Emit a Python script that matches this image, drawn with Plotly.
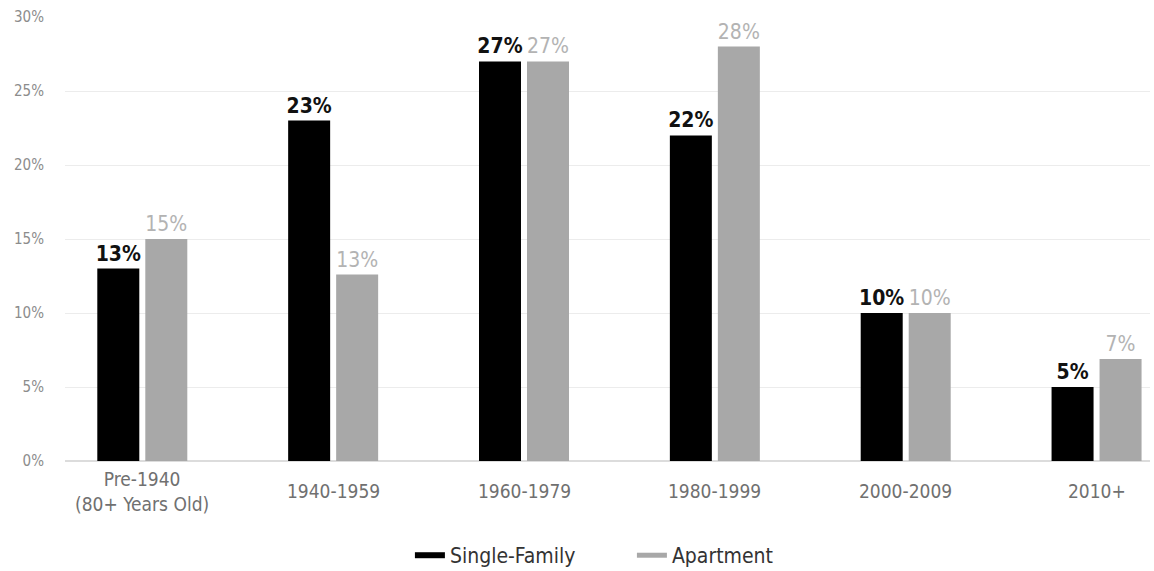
import plotly.graph_objects as go

# Share of homes by construction period
periods = ["Pre-1940<br>(80+ Years Old)", "1940-1959", "1960-1979", "1980-1999", "2000-2009", "2010+"]
single_family = [13, 23, 27, 22, 10, 5]
apartment = [15, 12.6, 27, 28, 10, 6.9]
y_ticks = [0, 5, 10, 15, 20, 25, 30]
y_tick_text = [f"{v}%" for v in y_ticks]

FONT = "DejaVu Sans Condensed, Liberation Sans Narrow, sans-serif"
BLACK = "#000000"
GRAY = "#a8a8a8"

x_idx = list(range(len(periods)))

fig = go.Figure()
fig.add_trace(go.Bar(
    x=x_idx, y=single_family, name="Single-Family",
    marker=dict(color=BLACK, line=dict(width=0)),
    texttemplate="<b>%{y:.0f}%</b>", textposition="outside",
    textfont=dict(family=FONT, size=21, color="#111111"),
    constraintext="none", cliponaxis=False, showlegend=False,
))
fig.add_trace(go.Bar(
    x=x_idx, y=apartment, name="Apartment",
    marker=dict(color=GRAY, line=dict(width=0)),
    texttemplate="%{y:.0f}%", textposition="outside",
    textfont=dict(family=FONT, size=21, color="#b3b3b3"),
    constraintext="none", cliponaxis=False, showlegend=False,
))

# Legend entries drawn as short thick strokes
fig.add_trace(go.Scatter(x=[None], y=[None], mode="lines", name="Single-Family",
                         line=dict(color=BLACK, width=6)))
fig.add_trace(go.Scatter(x=[None], y=[None], mode="lines", name="Apartment",
                         line=dict(color=GRAY, width=5)))

# Category labels, vertically centred under each group
for i, label in enumerate(periods):
    fig.add_annotation(x=i, y=-0.068, xref="x", yref="paper", text=label,
                       showarrow=False, yanchor="middle", align="center",
                       font=dict(family=FONT, size=19, color="#707070"))

fig.update_layout(
    width=1154, height=571,
    margin=dict(l=65, r=4, t=17, b=110, autoexpand=False),
    paper_bgcolor="white", plot_bgcolor="white",
    barmode="group", bargap=0.497, bargroupgap=0.125,
    font=dict(family=FONT),
    legend=dict(orientation="h", x=0.5225, xanchor="center", y=-0.213, yanchor="middle",
                font=dict(family=FONT, size=21, color="#333333"),
                itemwidth=30, entrywidth=177, traceorder="normal"),
    xaxis=dict(range=[-0.405, 5.28], showticklabels=False, showgrid=False,
               zeroline=False, showline=False, ticks=""),
    yaxis=dict(range=[0, 30], tickvals=y_ticks, ticktext=y_tick_text,
               showgrid=True, gridcolor="#ececec", gridwidth=1,
               zeroline=True, zerolinecolor="#dcdcdc", zerolinewidth=1.5,
               showline=False, ticks="", ticklabelstandoff=20,
               tickfont=dict(family=FONT, size=15, color="#8c8c8c")),
)

fig.write_html("out.html")
